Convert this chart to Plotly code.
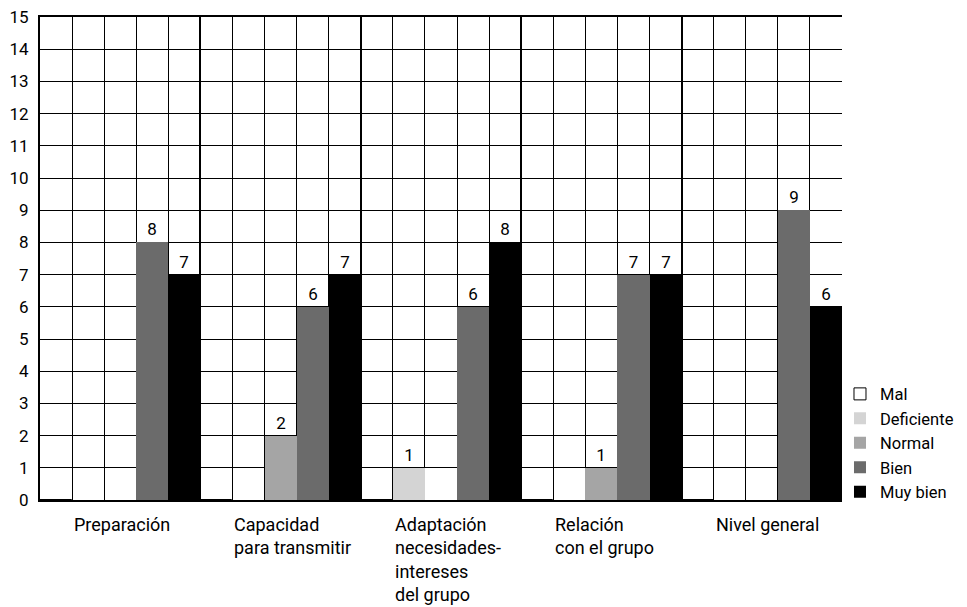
import plotly.graph_objects as go

categories = ["Preparación", "Capacidad<br>para transmitir", "Adaptación<br>necesidades-<br>intereses<br>del grupo",
              "Relación<br>con el grupo", "Nivel general"]
series_names = ["Mal", "Deficiente", "Normal", "Bien", "Muy bien"]
mal = [0, 0, 0, 0, 0]
deficiente = [0, 0, 1, 0, 0]
normal = [0, 2, 0, 1, 0]
bien = [8, 6, 6, 7, 9]
muy_bien = [7, 7, 8, 7, 6]
y_ticks = list(range(0, 16))

series_values = [mal, deficiente, normal, bien, muy_bien]
colors = ["#ffffff", "#d4d4d4", "#a5a5a5", "#6b6b6b", "#000000"]
FONT = "Roboto"
FS = 17

x_idx = list(range(len(categories)))
fig = go.Figure()
for name, vals, col in zip(series_names, series_values, colors):
    fig.add_trace(go.Bar(
        x=x_idx, y=vals, name=name,
        marker=dict(color=col, line=dict(color="#000000", width=1 if name == "Mal" else 0)),
        text=[str(v) if v else "" for v in vals],
        textposition="outside", cliponaxis=False,
        textfont=dict(family=FONT, size=FS, color="#000"),
    ))

n = len(categories)
fig.update_layout(
    width=967, height=607,
    margin=dict(l=40, r=125, t=17, b=107, autoexpand=False),
    paper_bgcolor="white", plot_bgcolor="white",
    barmode="group", bargap=0, bargroupgap=0,
    font=dict(family=FONT, size=FS, color="#000"),
    showlegend=True,
    legend=dict(x=0.9975, y=-0.02, xanchor="left", yanchor="bottom",
                font=dict(family=FONT, size=16.5), tracegroupgap=0,
                itemwidth=30, bgcolor="rgba(0,0,0,0)"),
    xaxis=dict(range=[-0.5, n - 0.5], tick0=-0.5, dtick=0.2, showticklabels=False,
               showgrid=True, gridcolor="#000", gridwidth=1, zeroline=False,
               showline=True, linecolor="#000", linewidth=2, mirror=True, ticks=""),
    yaxis=dict(range=[0, 15], tickvals=y_ticks, ticktext=[str(t) for t in y_ticks],
               showgrid=True, gridcolor="#000", gridwidth=1, zeroline=False,
               showline=True, linecolor="#000", linewidth=2, ticks="",
               tickfont=dict(family=FONT, size=FS), ticklabelstandoff=6,
               ticklabeloverflow="allow"),
)
# thicker group boundaries via overlay axis grid
fig.update_layout(xaxis2=dict(overlaying="x", range=[-0.5, n - 0.5], tick0=-0.5, dtick=1,
                              showgrid=True, gridcolor="#000", gridwidth=2,
                              showticklabels=False, zeroline=False, side="bottom"))
fig.add_trace(go.Scatter(x=[-0.5], y=[0], xaxis="x2", mode="markers",
                         marker=dict(opacity=0), showlegend=False, hoverinfo="skip"))

for i, cat in enumerate(categories):
    fig.add_annotation(x=i - 0.3, y=0, xref="x", yref="y", yshift=-12,
                       text=cat, showarrow=False, xanchor="left", yanchor="top",
                       align="left", font=dict(family=FONT, size=18, color="#000"))

fig.write_html("out.html", config={"displayModeBar": False},
               post_script="document.body.style.margin='0';")
